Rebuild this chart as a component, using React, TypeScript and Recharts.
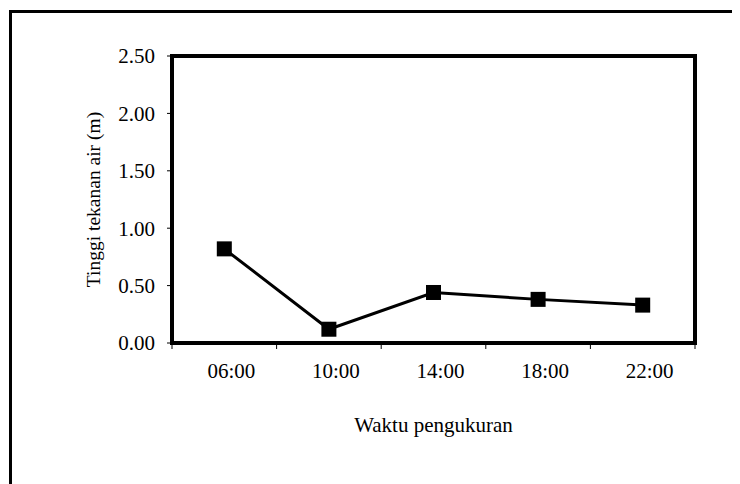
// Tinggi tekanan air vs. waktu pengukuran — garis hitam dengan penanda kotak,
// bingkai plot tebal dan bingkai luar (atas + kiri) seperti hasil pindaian.
import { LineChart, Line, XAxis, YAxis } from 'recharts'

const waktu = ['06:00', '10:00', '14:00', '18:00', '22:00']
const tekanan = [0.82, 0.12, 0.44, 0.38, 0.33]
const yTicks = [0, 0.5, 1, 1.5, 2, 2.5]

const data = waktu.map((w, i) => ({ waktu: w, tekanan: tekanan[i] }))

const FONT = 'Liberation Serif'
const fontStyle = { fontFamily: FONT }

function SquareDot(props: any) {
  const { cx, cy } = props
  if (cx == null || cy == null) return null
  return <rect x={cx - 7.5} y={cy - 7.5} width={15} height={15} fill="#000" />
}

// label di tengah kategori, garis tick di batas kategori
function WaktuTick(props: any) {
  const { x, y, index, width, payload } = props
  const band = width / waktu.length
  return (
    <g>
      <line x1={x - band / 2} y1={y} x2={x - band / 2} y2={y + 6} stroke="#000" />
      {index === waktu.length - 1 && (
        <line x1={x + band / 2} y1={y} x2={x + band / 2} y2={y + 6} stroke="#000" />
      )}
      <text x={x + 7} y={y + 35} textAnchor="middle" fontSize={21} style={fontStyle} fill="#000">
        {payload.value}
      </text>
    </g>
  )
}

function YLabel(props: any) {
  const { viewBox } = props
  const cx = viewBox.x + viewBox.width - 72
  const cy = viewBox.y + viewBox.height / 2
  return (
    <text
      x={cx}
      y={cy}
      transform={`rotate(-90, ${cx}, ${cy})`}
      textAnchor="middle"
      fontSize={19.5}
      style={fontStyle}
      fill="#000"
    >
      Tinggi tekanan air (m)
    </text>
  )
}

function XLabel(props: any) {
  const { viewBox } = props
  return (
    <text
      x={viewBox.x + viewBox.width / 2}
      y={viewBox.y + 89}
      textAnchor="middle"
      fontSize={21}
      style={fontStyle}
      fill="#000"
    >
      Waktu pengukuran
    </text>
  )
}

const thick = { stroke: '#000', strokeWidth: 4, strokeLinecap: 'square' as const }

export default function App() {
  return (
    <div style={{ position: 'relative', width: 732, height: 476, background: '#fff', fontFamily: FONT }}>
      <div
        style={{
          position: 'absolute',
          left: 1,
          top: 2,
          right: 0,
          bottom: 0,
          borderTop: '3px solid #000',
          borderLeft: '3px solid #000',
        }}
      />
      <div style={{ position: 'absolute', left: 0, top: 0 }}>
        <LineChart
          width={732}
          height={476}
          data={data}
          margin={{ top: 47, right: 44, bottom: 0, left: 0 }}
        >
          <XAxis
            dataKey="waktu"
            scale="band"
            height={141}
            axisLine={thick}
            tickLine={false}
            tickSize={0}
            tickMargin={0}
            interval={0}
            tick={<WaktuTick />}
            label={<XLabel />}
          />
          <XAxis
            xAxisId="atas"
            dataKey="waktu"
            scale="band"
            orientation="top"
            height={1}
            axisLine={thick}
            tick={false}
            tickLine={false}
          />
          <YAxis
            domain={[0, 2.5]}
            ticks={yTicks}
            width={164}
            axisLine={thick}
            tickLine={{ stroke: '#000' }}
            tickSize={5}
            tickMargin={12}
            tickFormatter={(v: number) => v.toFixed(2)}
            tick={{ fontSize: 21, fill: '#000', style: fontStyle }}
            label={<YLabel />}
          />
          <YAxis
            yAxisId="kanan"
            orientation="right"
            width={1}
            domain={[0, 2.5]}
            axisLine={thick}
            tick={false}
            tickLine={false}
          />
          <Line
            type="linear"
            dataKey="tekanan"
            stroke="#000"
            strokeWidth={3}
            dot={<SquareDot />}
            activeDot={false}
            isAnimationActive={false}
          />
        </LineChart>
      </div>
    </div>
  )
}
